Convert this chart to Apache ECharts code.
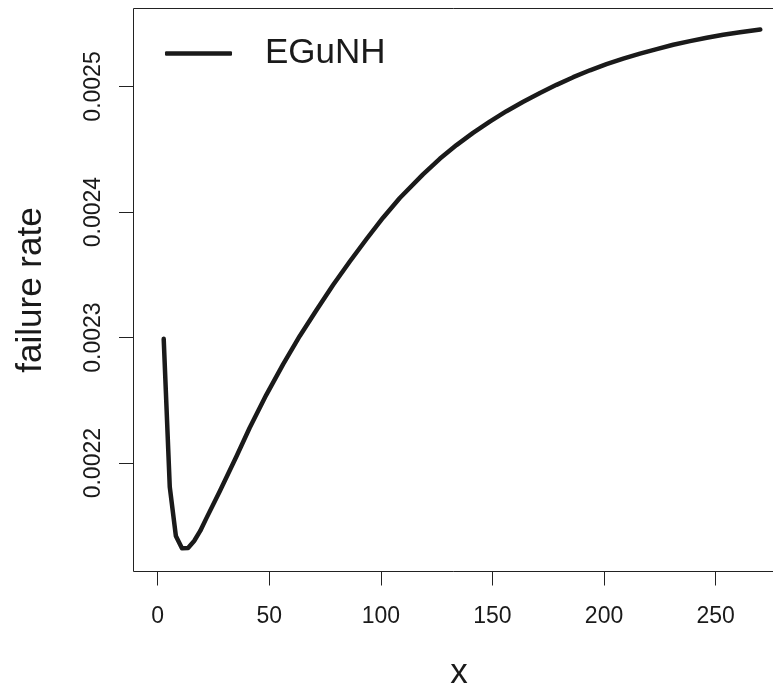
<!DOCTYPE html>
<html>
<head>
<meta charset="utf-8">
<script src="https://cdn.jsdelivr.net/npm/echarts@6/dist/echarts.min.js"></script>
<style>
html,body{margin:0;padding:0;background:#fff;}
#chart{width:773px;height:685px;}
</style>
</head>
<body>
<div id="chart"></div>
<script>
// Data
var seriesName = 'EGuNH';
var xs = [2.73, 5.45, 8.18, 10.91, 13.64, 16.36, 19.09, 21.82, 27.8, 35.3, 41.2, 48.7, 56.2, 63.7, 71.2, 78.6, 86.1, 93.6, 101.0, 108.5, 118.9, 126.4, 133.9, 141.3, 148.8, 156.3, 163.8, 171.3, 178.7, 186.2, 193.7, 201.1, 208.6, 216.1, 223.6, 231.0, 238.5, 246.0, 253.4, 260.9, 270.0];
var ys = [0.0022990, 0.0021810, 0.0021420, 0.0021322, 0.0021325, 0.0021380, 0.0021460, 0.0021560, 0.0021775, 0.0022053, 0.0022280, 0.0022544, 0.0022787, 0.0023013, 0.0023220, 0.0023419, 0.0023606, 0.0023785, 0.0023955, 0.0024112, 0.0024300, 0.0024424, 0.0024533, 0.0024630, 0.0024720, 0.0024803, 0.0024878, 0.0024948, 0.0025013, 0.0025074, 0.0025129, 0.0025178, 0.0025222, 0.0025262, 0.0025298, 0.0025332, 0.0025361, 0.0025388, 0.0025412, 0.0025432, 0.0025454];
var xTicks = [0, 50, 100, 150, 200, 250];
var yTicks = [0.0022, 0.0023, 0.0024, 0.0025];
var xTitle = 'x';
var yTitle = 'failure rate';

var FONT = '"Liberation Sans", Arial, Helvetica, sans-serif';
var INK = '#1a1a1a';

var points = xs.map(function (x, i) { return [x, ys[i]]; });

var chart = echarts.init(document.getElementById('chart'), null, {renderer: 'canvas'});
chart.setOption({
  backgroundColor: '#ffffff',
  animation: false,
  grid: {
    left: 133.5, top: 8.5, right: -11.4, bottom: 113.5,
    containLabel: false,
    outerBoundsMode: 'none',
    show: true, borderColor: '#222', borderWidth: 1, backgroundColor: 'transparent'
  },
  legend: {
    data: [seriesName],
    left: 165, top: 36, padding: 0,
    icon: 'roundRect',
    itemWidth: 67, itemHeight: 4.5,
    textStyle: {fontFamily: FONT, fontSize: 35, color: INK, padding: [0, 0, 0, 28]},
    selectedMode: false
  },
  xAxis: {
    type: 'value',
    min: -10.8, max: 280.8,
    axisLine: {show: false, onZero: false},
    splitLine: {show: false},
    axisTick: {show: true, inside: false, length: 14, customValues: xTicks, lineStyle: {color: '#222', width: 1}},
    axisLabel: {show: true, customValues: xTicks, margin: 34, fontFamily: FONT, fontSize: 23, color: INK},
    name: xTitle, nameLocation: 'middle', nameGap: 84, nameMoveOverlap: false,
    nameTextStyle: {fontFamily: FONT, fontSize: 35, color: INK}
  },
  yAxis: {
    type: 'value',
    min: 0.0021137, max: 0.0025621,
    axisLine: {show: false, onZero: false},
    splitLine: {show: false},
    axisTick: {show: true, inside: false, length: 14.5, customValues: yTicks, lineStyle: {color: '#222', width: 1}},
    axisLabel: {show: true, customValues: yTicks, rotate: 90, margin: 28.5, fontFamily: FONT, fontSize: 23, color: INK,
      formatter: function (v) { return v.toFixed(4); }},
    name: yTitle, nameLocation: 'middle', nameGap: 85, nameMoveOverlap: false,
    nameTextStyle: {fontFamily: FONT, fontSize: 35, color: INK}
  },
  series: [{
    name: seriesName,
    type: 'line',
    data: points,
    symbol: 'none',
    smooth: false,
    clip: true,
    lineStyle: {color: INK, width: 4.5, cap: 'round', join: 'round'},
    itemStyle: {color: INK}
  }]
});
</script>
</body>
</html>
